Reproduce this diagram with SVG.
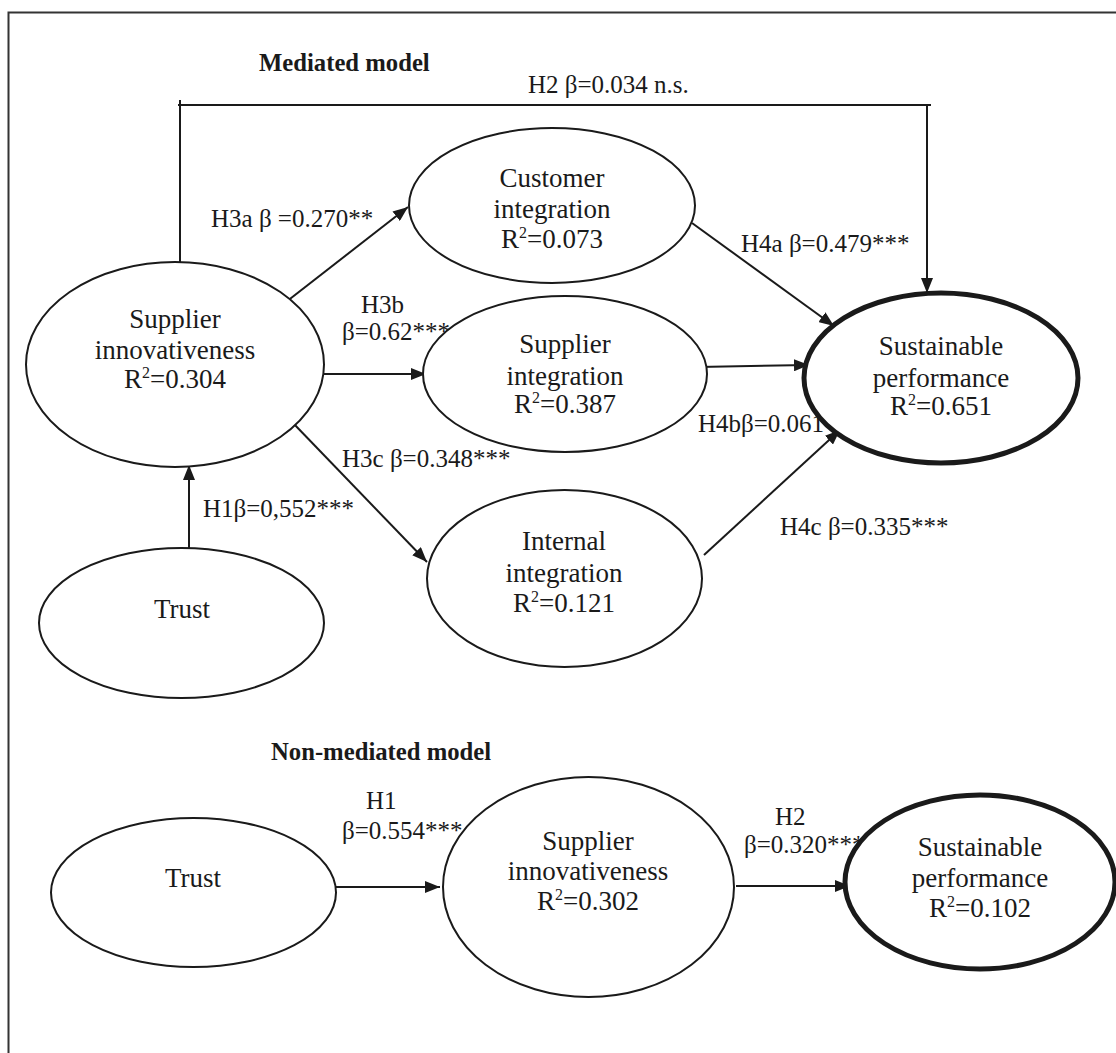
<svg xmlns="http://www.w3.org/2000/svg" width="1116" height="1053" viewBox="0 0 1116 1053">
<defs>
<marker id="ah" markerUnits="userSpaceOnUse" markerWidth="16" markerHeight="12" refX="15" refY="6" orient="auto">
<path d="M0,0 L15,6 L0,12 Z" fill="#1a1a1a"/>
</marker>
<style>
text{font-family:"Liberation Serif","Times New Roman",serif;fill:#1a1a1a}
.n{font-size:27px;text-anchor:middle}
.l{font-size:25px}
.t{font-size:24.7px;font-weight:bold}
.e{fill:#fff;stroke:#1a1a1a;stroke-width:2}
.k{fill:#fff;stroke:#1a1a1a;stroke-width:5}
.c{fill:none;stroke:#1a1a1a;stroke-width:2}
.a{fill:none;stroke:#1a1a1a;stroke-width:2;marker-end:url(#ah)}
</style>
</defs>
<rect width="1116" height="1053" fill="#fff"/>
<path d="M8.5,1053 V12.5 H1116" fill="none" stroke="#333" stroke-width="2"/>
<text class="t" x="259" y="71">Mediated model</text>
<text class="t" x="271" y="760">Non-mediated model</text>

<g id="connectors">
<path class="c" d="M180,100 V262 M178,105 H931"/>
<path class="a" d="M927,105 V293"/>
<path class="a" d="M189,548 V465"/>
<path class="a" d="M286,302 L408,207"/>
<path class="a" d="M317,374 L426,374"/>
<path class="a" d="M293,423 L427,562"/>
<path class="a" d="M692,223 L834,326"/>
<path class="a" d="M698,367 L809,365"/>
<path class="a" d="M704,555 L840,430"/>
<path class="a" d="M328,887 L440,887"/>
<path class="a" d="M736,886 L850,886"/>
<text class="l" x="528" y="93">H2 β=0.034 n.s.</text>
<text class="l" x="211" y="227">H3a β =0.270**</text>
<text class="l" x="361" y="313">H3b</text>
<text class="l" x="342" y="340">β=0.62***</text>
<text class="l" x="342" y="467">H3c β=0.348***</text>
<text class="l" x="203" y="517">H1β=0,552***</text>
<text class="l" x="741" y="252">H4a β=0.479***</text>
<text class="l" x="698" y="432">H4bβ=0.061</text>
<text class="l" x="780" y="535">H4c β=0.335***</text>
<text class="l" x="366" y="809">H1</text>
<text class="l" x="342" y="839">β=0.554***</text>
<text class="l" x="775" y="825">H2</text>
<text class="l" x="744" y="853">β=0.320***</text>
</g>

<g id="supplier-innovativeness">
<ellipse class="e" cx="175" cy="364.5" rx="149" ry="102.5"/>
<text class="n" x="175" y="328">Supplier</text>
<text class="n" x="175" y="359">innovativeness</text>
<text class="n" x="175" y="388">R<tspan font-size="16" dy="-10">2</tspan><tspan dy="10">=0.304</tspan></text>
</g>
<g id="trust">
<ellipse class="e" cx="181.5" cy="623" rx="142.5" ry="75"/>
<text class="n" x="182" y="618">Trust</text>
</g>
<g id="customer-integration">
<ellipse class="e" cx="552" cy="205.5" rx="143" ry="77.5"/>
<text class="n" x="552" y="187">Customer</text>
<text class="n" x="552" y="218">integration</text>
<text class="n" x="552" y="248">R<tspan font-size="16" dy="-10">2</tspan><tspan dy="10">=0.073</tspan></text>
</g>
<g id="supplier-integration">
<ellipse class="e" cx="565" cy="374" rx="142" ry="78"/>
<text class="n" x="565" y="353">Supplier</text>
<text class="n" x="565" y="385">integration</text>
<text class="n" x="565" y="413">R<tspan font-size="16" dy="-10">2</tspan><tspan dy="10">=0.387</tspan></text>
</g>
<g id="internal-integration">
<ellipse class="e" cx="564.5" cy="578.5" rx="137.5" ry="88.5"/>
<text class="n" x="564" y="550">Internal</text>
<text class="n" x="564" y="582">integration</text>
<text class="n" x="564" y="612">R<tspan font-size="16" dy="-10">2</tspan><tspan dy="10">=0.121</tspan></text>
</g>
<g id="sustainable-performance">
<ellipse class="k" cx="941" cy="378" rx="137" ry="85"/>
<text class="n" x="941" y="355">Sustainable</text>
<text class="n" x="941" y="387">performance</text>
<text class="n" x="941" y="415">R<tspan font-size="16" dy="-10">2</tspan><tspan dy="10">=0.651</tspan></text>
</g>

<g id="trust-2">
<ellipse class="e" cx="193.5" cy="892.5" rx="142.5" ry="74.5"/>
<text class="n" x="193" y="887">Trust</text>
</g>
<g id="supplier-innovativeness-2">
<ellipse class="e" cx="588.5" cy="887" rx="145.5" ry="110"/>
<text class="n" x="588" y="850">Supplier</text>
<text class="n" x="588" y="880">innovativeness</text>
<text class="n" x="588" y="910">R<tspan font-size="16" dy="-10">2</tspan><tspan dy="10">=0.302</tspan></text>
</g>
<g id="sustainable-performance-2">
<ellipse class="k" cx="980" cy="882" rx="135" ry="87"/>
<text class="n" x="980" y="856">Sustainable</text>
<text class="n" x="980" y="887">performance</text>
<text class="n" x="980" y="917">R<tspan font-size="16" dy="-10">2</tspan><tspan dy="10">=0.102</tspan></text>
</g>
</svg>
